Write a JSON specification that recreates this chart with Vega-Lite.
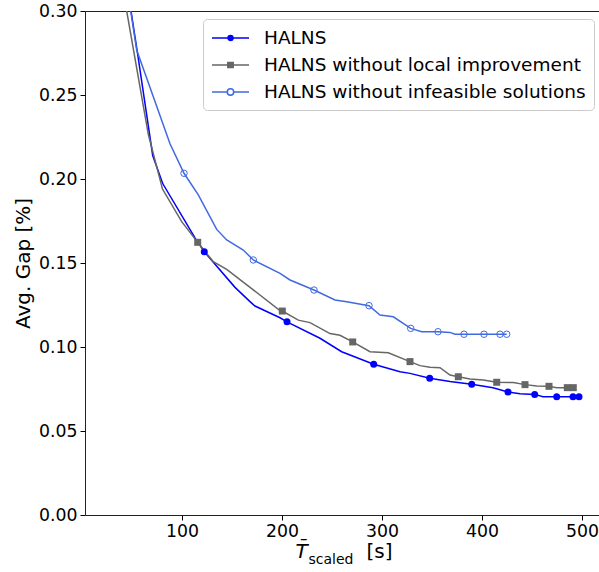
{
  "$schema": "https://vega.github.io/schema/vega-lite/v6.json",
  "width": 515,
  "height": 504,
  "autosize": "none",
  "padding": {"left": 85, "top": 11, "right": 0, "bottom": 57},
  "background": "white",
  "config": {
    "font": "DejaVu Sans",
    "view": {"stroke": "#222222", "strokeWidth": 1},
    "axis": {"labelColor": "#000000", "titleColor": "#000000", "tickColor": "#000000", "grid": false, "domain": false, "titleFontWeight": "normal"}
  },
  "datasets": {
    "curves": [
      {"series": "HALNS", "t": 42, "gap": 0.33},
      {"series": "HALNS", "t": 49, "gap": 0.30},
      {"series": "HALNS", "t": 56, "gap": 0.273},
      {"series": "HALNS", "t": 70.7, "gap": 0.214},
      {"series": "HALNS", "t": 79.7, "gap": 0.199},
      {"series": "HALNS", "t": 81, "gap": 0.197},
      {"series": "HALNS", "t": 113, "gap": 0.165},
      {"series": "HALNS", "t": 122.3, "gap": 0.1567},
      {"series": "HALNS", "t": 153, "gap": 0.1355},
      {"series": "HALNS", "t": 168, "gap": 0.127},
      {"series": "HALNS", "t": 173, "gap": 0.1244},
      {"series": "HALNS", "t": 198, "gap": 0.1174},
      {"series": "HALNS", "t": 205, "gap": 0.115},
      {"series": "HALNS", "t": 238, "gap": 0.1052},
      {"series": "HALNS", "t": 259.7, "gap": 0.0972},
      {"series": "HALNS", "t": 291.7, "gap": 0.0897},
      {"series": "HALNS", "t": 318, "gap": 0.0853},
      {"series": "HALNS", "t": 328, "gap": 0.0843},
      {"series": "HALNS", "t": 347.7, "gap": 0.0814},
      {"series": "HALNS", "t": 368, "gap": 0.0794},
      {"series": "HALNS", "t": 389.7, "gap": 0.0778},
      {"series": "HALNS", "t": 411, "gap": 0.0758},
      {"series": "HALNS", "t": 426, "gap": 0.0732},
      {"series": "HALNS", "t": 438, "gap": 0.0722},
      {"series": "HALNS", "t": 452.7, "gap": 0.0718},
      {"series": "HALNS", "t": 461, "gap": 0.0704},
      {"series": "HALNS", "t": 474.7, "gap": 0.0704},
      {"series": "HALNS", "t": 491, "gap": 0.0704},
      {"series": "HALNS", "t": 497, "gap": 0.0704},
      {"series": "HALNS without local improvement", "t": 36, "gap": 0.33},
      {"series": "HALNS without local improvement", "t": 44.7, "gap": 0.30},
      {"series": "HALNS without local improvement", "t": 66.3, "gap": 0.2266},
      {"series": "HALNS without local improvement", "t": 80.5, "gap": 0.194},
      {"series": "HALNS without local improvement", "t": 99.7, "gap": 0.1746},
      {"series": "HALNS without local improvement", "t": 115.7, "gap": 0.1623},
      {"series": "HALNS without local improvement", "t": 131.3, "gap": 0.1508},
      {"series": "HALNS without local improvement", "t": 144.7, "gap": 0.1462},
      {"series": "HALNS without local improvement", "t": 171.3, "gap": 0.134},
      {"series": "HALNS without local improvement", "t": 197.3, "gap": 0.122},
      {"series": "HALNS without local improvement", "t": 200.3, "gap": 0.1214},
      {"series": "HALNS without local improvement", "t": 216.3, "gap": 0.116},
      {"series": "HALNS without local improvement", "t": 228, "gap": 0.1145},
      {"series": "HALNS without local improvement", "t": 248, "gap": 0.108},
      {"series": "HALNS without local improvement", "t": 258, "gap": 0.107},
      {"series": "HALNS without local improvement", "t": 270.7, "gap": 0.103},
      {"series": "HALNS without local improvement", "t": 288, "gap": 0.0972},
      {"series": "HALNS without local improvement", "t": 306.3, "gap": 0.0966},
      {"series": "HALNS without local improvement", "t": 328, "gap": 0.0913},
      {"series": "HALNS without local improvement", "t": 338, "gap": 0.0889},
      {"series": "HALNS without local improvement", "t": 348, "gap": 0.0879},
      {"series": "HALNS without local improvement", "t": 358, "gap": 0.0877},
      {"series": "HALNS without local improvement", "t": 368, "gap": 0.0833},
      {"series": "HALNS without local improvement", "t": 376.3, "gap": 0.0823},
      {"series": "HALNS without local improvement", "t": 388, "gap": 0.081},
      {"series": "HALNS without local improvement", "t": 401.3, "gap": 0.0804},
      {"series": "HALNS without local improvement", "t": 414.7, "gap": 0.079},
      {"series": "HALNS without local improvement", "t": 431.3, "gap": 0.0788},
      {"series": "HALNS without local improvement", "t": 443, "gap": 0.0776},
      {"series": "HALNS without local improvement", "t": 454.7, "gap": 0.0768},
      {"series": "HALNS without local improvement", "t": 467, "gap": 0.0766},
      {"series": "HALNS without local improvement", "t": 474.7, "gap": 0.0758},
      {"series": "HALNS without local improvement", "t": 485.3, "gap": 0.0758},
      {"series": "HALNS without local improvement", "t": 491.3, "gap": 0.0758},
      {"series": "HALNS without infeasible solutions", "t": 41.3, "gap": 0.33},
      {"series": "HALNS without infeasible solutions", "t": 48.7, "gap": 0.30},
      {"series": "HALNS without infeasible solutions", "t": 54.7, "gap": 0.2768},
      {"series": "HALNS without infeasible solutions", "t": 88, "gap": 0.2210},
      {"series": "HALNS without infeasible solutions", "t": 102, "gap": 0.2034},
      {"series": "HALNS without infeasible solutions", "t": 116.3, "gap": 0.1905},
      {"series": "HALNS without infeasible solutions", "t": 134.7, "gap": 0.170},
      {"series": "HALNS without infeasible solutions", "t": 144.7, "gap": 0.1637},
      {"series": "HALNS without infeasible solutions", "t": 161.3, "gap": 0.1577},
      {"series": "HALNS without infeasible solutions", "t": 171.3, "gap": 0.1518},
      {"series": "HALNS without infeasible solutions", "t": 198, "gap": 0.1438},
      {"series": "HALNS without infeasible solutions", "t": 208, "gap": 0.1399},
      {"series": "HALNS without infeasible solutions", "t": 232, "gap": 0.1339},
      {"series": "HALNS without infeasible solutions", "t": 253, "gap": 0.128},
      {"series": "HALNS without infeasible solutions", "t": 264.7, "gap": 0.127},
      {"series": "HALNS without infeasible solutions", "t": 287, "gap": 0.1246},
      {"series": "HALNS without infeasible solutions", "t": 298, "gap": 0.119},
      {"series": "HALNS without infeasible solutions", "t": 311.3, "gap": 0.118},
      {"series": "HALNS without infeasible solutions", "t": 328.7, "gap": 0.1111},
      {"series": "HALNS without infeasible solutions", "t": 339.7, "gap": 0.1091},
      {"series": "HALNS without infeasible solutions", "t": 356, "gap": 0.1091},
      {"series": "HALNS without infeasible solutions", "t": 368, "gap": 0.1087},
      {"series": "HALNS without infeasible solutions", "t": 373, "gap": 0.1076},
      {"series": "HALNS without infeasible solutions", "t": 382, "gap": 0.1076},
      {"series": "HALNS without infeasible solutions", "t": 402, "gap": 0.1076},
      {"series": "HALNS without infeasible solutions", "t": 418, "gap": 0.1076},
      {"series": "HALNS without infeasible solutions", "t": 424.7, "gap": 0.1076}
    ],
    "markers": [
      {"series": "HALNS", "t": 122.3, "gap": 0.1567},
      {"series": "HALNS", "t": 205, "gap": 0.115},
      {"series": "HALNS", "t": 291.7, "gap": 0.0897},
      {"series": "HALNS", "t": 347.7, "gap": 0.0814},
      {"series": "HALNS", "t": 389.7, "gap": 0.0778},
      {"series": "HALNS", "t": 426, "gap": 0.0732},
      {"series": "HALNS", "t": 452.7, "gap": 0.0718},
      {"series": "HALNS", "t": 474.7, "gap": 0.0704},
      {"series": "HALNS", "t": 491, "gap": 0.0704},
      {"series": "HALNS", "t": 497, "gap": 0.0704},
      {"series": "HALNS without local improvement", "t": 115.7, "gap": 0.1623},
      {"series": "HALNS without local improvement", "t": 200.3, "gap": 0.1214},
      {"series": "HALNS without local improvement", "t": 270.7, "gap": 0.103},
      {"series": "HALNS without local improvement", "t": 328, "gap": 0.0913},
      {"series": "HALNS without local improvement", "t": 376.3, "gap": 0.0823},
      {"series": "HALNS without local improvement", "t": 414.7, "gap": 0.079},
      {"series": "HALNS without local improvement", "t": 443, "gap": 0.0776},
      {"series": "HALNS without local improvement", "t": 467, "gap": 0.0766},
      {"series": "HALNS without local improvement", "t": 485.3, "gap": 0.0758},
      {"series": "HALNS without local improvement", "t": 491.3, "gap": 0.0758},
      {"series": "HALNS without infeasible solutions", "t": 102, "gap": 0.2034},
      {"series": "HALNS without infeasible solutions", "t": 171.3, "gap": 0.1518},
      {"series": "HALNS without infeasible solutions", "t": 232, "gap": 0.1339},
      {"series": "HALNS without infeasible solutions", "t": 287, "gap": 0.1246},
      {"series": "HALNS without infeasible solutions", "t": 328.7, "gap": 0.1111},
      {"series": "HALNS without infeasible solutions", "t": 356, "gap": 0.1091},
      {"series": "HALNS without infeasible solutions", "t": 382, "gap": 0.1076},
      {"series": "HALNS without infeasible solutions", "t": 402, "gap": 0.1076},
      {"series": "HALNS without infeasible solutions", "t": 418, "gap": 0.1076},
      {"series": "HALNS without infeasible solutions", "t": 424.7, "gap": 0.1076}
    ]
  },
  "layer": [
    {
      "data": {"name": "curves"},
      "mark": {"type": "line", "strokeWidth": 1.5, "clip": true},
      "encoding": {
        "x": {
          "field": "t", "type": "quantitative",
          "scale": {"domain": [3, 518], "nice": false, "zero": false},
          "axis": {
            "orient": "bottom", "values": [100, 200, 300, 400, 500],
            "labelFontSize": 17.3, "tickSize": 5, "labelPadding": 2,
            "title": "T\u0304", "titleFontSize": 20, "titleFontStyle": "italic",
            "titleAlign": "left", "titleBaseline": "alphabetic", "titleX": 210, "titleY": 42
          }
        },
        "y": {
          "field": "gap", "type": "quantitative",
          "scale": {"domain": [0, 0.3], "nice": false},
          "axis": {
            "values": [0, 0.05, 0.1, 0.15, 0.2, 0.25, 0.3], "format": ".2f",
            "labelFontSize": 17.3, "tickSize": 5, "labelPadding": 3,
            "title": "Avg. Gap [%]", "titleFontSize": 20, "titlePadding": 5
          }
        },
        "color": {
          "field": "series", "type": "nominal",
          "scale": {
            "domain": ["HALNS", "HALNS without local improvement", "HALNS without infeasible solutions"],
            "range": ["#0000ff", "#666666", "#4169e1"]
          },
          "legend": {
            "title": null, "orient": "none", "legendX": 118, "legendY": 8,
            "padding": 8, "strokeColor": "#cccccc", "fillColor": "rgba(255,255,255,0.8)", "cornerRadius": 4,
            "labelFontSize": 18.5, "labelColor": "#000000", "labelLimit": 400,
            "symbolSize": 400, "symbolStrokeWidth": 1.5, "labelOffset": 31, "rowPadding": 6,
            "encoding": {
              "symbols": {
                "shape": {"value": {"expr": "datum.value === 'HALNS' ? 'M-1,0H2.7M1.1,0A0.25,0.25 0 1 1 0.6,0A0.25,0.25 0 1 1 1.1,0Z' : datum.value === 'HALNS without local improvement' ? 'M-1,0H2.7M0.58,-0.26H1.12V0.26H0.58Z' : 'M-1,0H0.53M1.17,0H2.7M1.17,0A0.32,0.32 0 1 1 0.53,0A0.32,0.32 0 1 1 1.17,0A0.32,0.32 0 1 0 0.53,0A0.32,0.32 0 1 0 1.17,0'"}},
                "fill": {"value": {"expr": "datum.value === 'HALNS' ? '#0000ff' : datum.value === 'HALNS without local improvement' ? '#666666' : '#ffffff'"}},
                "fillOpacity": {"value": 1},
                "stroke": {"value": {"expr": "datum.value === 'HALNS' ? '#0000ff' : datum.value === 'HALNS without local improvement' ? '#666666' : '#4169e1'"}},
                "strokeWidth": {"value": 1.5}
              }
            }
          }
        }
      }
    },
    {
      "data": {"name": "markers"},
      "transform": [{"filter": "datum.series === 'HALNS'"}],
      "mark": {"type": "point", "filled": true, "shape": "circle", "size": 49, "opacity": 1},
      "encoding": {
        "x": {
          "field": "t", "type": "quantitative",
          "scale": {"domain": [3, 518], "nice": false, "zero": false},
          "axis": {
            "orient": "bottom", "ticks": false, "labels": false, "domain": false,
            "title": "scaled", "titleFontSize": 14,
            "titleAlign": "left", "titleBaseline": "alphabetic", "titleX": 223, "titleY": 48
          }
        },
        "y": {
          "field": "gap", "type": "quantitative",
          "axis": {
            "values": [0, 0.05, 0.1, 0.15, 0.2, 0.25, 0.3], "format": ".2f",
            "labelFontSize": 17.3, "tickSize": 5, "labelPadding": 3,
            "title": "Avg. Gap [%]", "titleFontSize": 20, "titlePadding": 5
          }
        },
        "color": {"field": "series", "type": "nominal", "legend": null}
      }
    },
    {
      "data": {"name": "markers"},
      "transform": [{"filter": "datum.series === 'HALNS without local improvement'"}],
      "mark": {"type": "point", "filled": true, "shape": "square", "size": 49, "opacity": 1},
      "encoding": {
        "x": {
          "field": "t", "type": "quantitative",
          "scale": {"domain": [3, 518], "nice": false, "zero": false},
          "axis": {
            "orient": "bottom", "ticks": false, "labels": false, "domain": false,
            "title": "[s]", "titleFontSize": 20,
            "titleAlign": "left", "titleBaseline": "alphabetic", "titleX": 281, "titleY": 42
          }
        },
        "y": {
          "field": "gap", "type": "quantitative",
          "axis": {
            "values": [0, 0.05, 0.1, 0.15, 0.2, 0.25, 0.3], "format": ".2f",
            "labelFontSize": 17.3, "tickSize": 5, "labelPadding": 3,
            "title": "Avg. Gap [%]", "titleFontSize": 20, "titlePadding": 5
          }
        },
        "color": {"field": "series", "type": "nominal", "legend": null}
      }
    },
    {
      "data": {"name": "markers"},
      "transform": [{"filter": "datum.series === 'HALNS without infeasible solutions'"}],
      "mark": {"type": "point", "filled": false, "shape": "circle", "size": 42, "strokeWidth": 1, "opacity": 1},
      "encoding": {
        "x": {
          "field": "t", "type": "quantitative",
          "scale": {"domain": [3, 518], "nice": false, "zero": false},
          "axis": null
        },
        "y": {
          "field": "gap", "type": "quantitative",
          "axis": {
            "values": [0, 0.05, 0.1, 0.15, 0.2, 0.25, 0.3], "format": ".2f",
            "labelFontSize": 17.3, "tickSize": 5, "labelPadding": 3,
            "title": "Avg. Gap [%]", "titleFontSize": 20, "titlePadding": 5
          }
        },
        "color": {"field": "series", "type": "nominal", "legend": null}
      }
    }
  ],
  "resolve": {"axis": {"x": "independent"}}
}
